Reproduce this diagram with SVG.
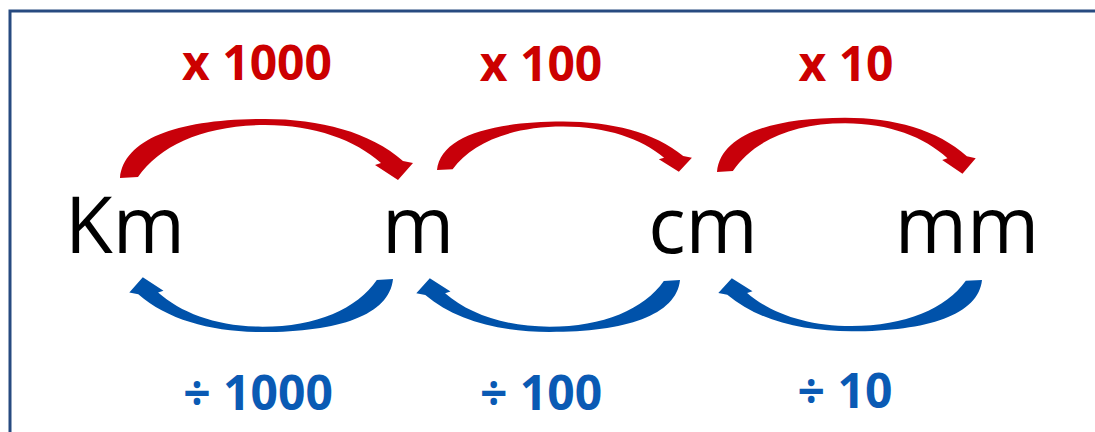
<svg xmlns="http://www.w3.org/2000/svg" width="1095" height="432" viewBox="0 0 1095 432">
<style>
.unit{font-family:"Open Sans","Liberation Sans",sans-serif;font-size:78px;fill:#000;text-anchor:middle}
.lab{font-family:"Open Sans","Liberation Sans",sans-serif;font-size:48px;font-weight:bold;text-anchor:middle}
.mul{fill:#cc0000}
.div{fill:#0a5ab4}
.ra{fill:#c8000a}
.ba{fill:#0052aa}
</style>
<defs>
<path id="arc" d="M0,0 C4,-40 60,-59 145,-59 C200,-59 250,-46 283,-17 L293,-15 L278,2 L255,-13 L261,-15 C235,-38 195,-53 145,-53 C85,-53 40,-33 18,-1 Z"/>
</defs>
<rect width="1095" height="432" fill="#ffffff"/>
<rect x="10" y="11" width="1100" height="440" fill="none" stroke="#274a80" stroke-width="3"/>
<g id="connectors">
<use href="#arc" class="ra" transform="translate(120,178)"/>
<use href="#arc" class="ra" transform="translate(437,170) scale(0.87,0.82)"/>
<use href="#arc" class="ra" transform="translate(717,172) scale(0.883,0.92)"/>
<use href="#arc" class="ba" transform="translate(393,279) scale(-0.9,-0.9)"/>
<use href="#arc" class="ba" transform="translate(680,280) scale(-0.9,-0.88)"/>
<use href="#arc" class="ba" transform="translate(982,280) scale(-0.9,-0.87)"/>
</g>
<g id="node-km"><text class="unit" x="125" y="253">Km</text></g>
<g id="node-m"><text class="unit" x="418" y="253">m</text></g>
<g id="node-cm"><text class="unit" x="703" y="253">cm</text></g>
<g id="node-mm"><text class="unit" x="967" y="253">mm</text></g>
<g id="labels">
<text class="lab mul" x="257" y="80">x 1000</text>
<text class="lab mul" x="541" y="81">x 100</text>
<text class="lab mul" x="846" y="81">x 10</text>
<text class="lab div" x="258" y="410">÷ 1000</text>
<text class="lab div" x="541" y="410">÷ 100</text>
<text class="lab div" x="845" y="408">÷ 10</text>
</g>
</svg>
